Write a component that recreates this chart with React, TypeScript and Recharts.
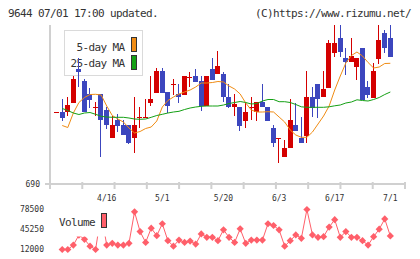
import { ComposedChart, Bar, Line, XAxis, YAxis } from "recharts";

// trading days, 2024-04-03 .. 2024-07-01
const dates = [
  "4/3", "4/4", "4/5", "4/8", "4/9", "4/10", "4/11", "4/12", "4/15", "4/16",
  "4/17", "4/18", "4/19", "4/22", "4/23", "4/24", "4/25", "4/26", "4/30", "5/1",
  "5/2", "5/7", "5/8", "5/9", "5/10", "5/13", "5/14", "5/15", "5/16", "5/17",
  "5/20", "5/21", "5/22", "5/23", "5/24", "5/27", "5/28", "5/29", "5/30", "5/31",
  "6/3", "6/4", "6/5", "6/6", "6/7", "6/10", "6/11", "6/12", "6/13", "6/14",
  "6/17", "6/18", "6/19", "6/20", "6/21", "6/24", "6/25", "6/26", "6/27", "6/28",
  "7/1",
];

const open = [
  762, 762, 762, 771, 805, 793, 780, 767, 780, 764,
  736, 754, 749, 749, 736, 757, 757, 771, 781, 803,
  782, 790, 780, 779, 797, 798, 793, 768, 805, 800,
  800, 777, 767, 767, 753, 767, 762, 772, 767, 746,
  736, 717, 726, 749, 736, 738, 777, 790, 777, 786,
  821, 836, 816, 812, 807, 826, 787, 776, 815, 841,
  836,
];
const high = [
  762, 775, 777, 798, 816, 795, 786, 772, 780, 767,
  758, 760, 754, 749, 777, 767, 775, 798, 806, 806,
  782, 795, 790, 798, 802, 805, 798, 798, 816, 823,
  802, 790, 780, 767, 771, 777, 772, 790, 767, 749,
  736, 734, 775, 771, 757, 803, 787, 790, 803, 834,
  849, 849, 826, 836, 816, 826, 793, 811, 849, 844,
  849,
];
const low = [
  762, 753, 758, 771, 787, 762, 766, 758, 717, 745,
  736, 742, 739, 730, 721, 746, 757, 768, 781, 781,
  761, 779, 771, 779, 787, 792, 763, 768, 794, 800,
  772, 766, 758, 743, 746, 754, 753, 767, 753, 727,
  711, 717, 726, 743, 731, 731, 757, 756, 777, 786,
  817, 817, 799, 812, 794, 774, 776, 776, 810, 821,
  817,
];
const close = [
  762, 756, 769, 795, 802, 762, 774, 767, 754, 749,
  749, 748, 739, 731, 749, 757, 757, 775, 803, 781,
  768, 790, 777, 798, 797, 792, 768, 798, 794, 808,
  777, 767, 770, 748, 762, 767, 772, 767, 753, 731,
  736, 726, 754, 743, 731, 777, 766, 775, 785, 831,
  831, 822, 812, 818, 816, 774, 779, 803, 834, 826,
  817,
];
const ma5 = [
  null, 748.5, 746.5, 761, 771.5, 776.5, 779.5, 779.7, 779, 768,
  758.5, 755, 752, 746, 741, 742.5, 745.5, 747, 753, 767,
  773.5, 777, 780, 782, 784, 787, 791, 791, 791.5, 792.5,
  792, 788, 785, 780, 771, 764, 762, 762, 762.3, 762,
  757, 752, 744, 739, 736.7, 736.7, 742, 750, 758, 768,
  784, 798, 811, 818.5, 822, 818, 811.5, 806, 807, 810.5,
  810.7,
];
const ma25 = [
  null, 765.5, 763.5, 761, 759.5, 761, 761.5, 759.7, 757.7, 757,
  756.7, 756.7, 756.7, 756, 755, 754.7, 755, 756.7, 758.5, 759.7,
  761, 762, 762.7, 764.5, 766, 767, 767.7, 768, 768, 768,
  769, 770.5, 771.5, 772.5, 771.5, 770, 770.5, 773, 774.5, 774.5,
  772.3, 772.3, 771.5, 769.5, 767.2, 766.7, 766.7, 766.7, 766.7, 767.2,
  768.2, 769, 771, 772, 774.2, 773.5, 773, 774.5, 776.5, 779.5,
  782,
];
const volume = [
  null, 12000, 12000, 19300, 36000, 28900, 17600, 12000, 72000, 19300,
  22200, 19300, 19300, 22200, 74600, 41800, 23800, 47500, 35000, 54800,
  26600, 17600, 27700, 23800, 26000, 21000, 37900, 32300, 32300, 26600,
  44700, 32300, 23800, 46300, 22200, 27700, 27700, 27700, 54800, 51900,
  44700, 17600, 26600, 36200, 30600, 78500, 36200, 32300, 33300, 49200,
  61600, 32300, 41800, 32300, 32300, 26600, 19300, 33300, 45800, 62800,
  34500,
];

const labelDates = ["4/16", "5/1", "5/20", "6/3", "6/17", "7/1"];
const priceTicks = [690];
const priceDomain = [690, 849];
const volumeTicks = [12000, 45250, 78500];

const RED = "#d40000";
const BLUE = "#3c46be";
const ORANGE = "#f08c14";
const GREEN = "#14a014";
const VOL = "#ff5f6a";
const AXIS = "#d0d0d0";
const TEXT = "#333333";
const MONO = "'DejaVu Sans Mono', monospace";

// x runs in candle-index units; the axis overhangs the first/last candle a little
const X_MIN = -1.2;
const X_MAX = 62.64;
const markTicks = Array.from({ length: 12 }, (_, k) =>
  k === 11 ? X_MAX : X_MIN + (k * (X_MAX - X_MIN)) / 11
);
const labelIndex = labelDates.map((d) => dates.indexOf(d));
const axisTicks = [...markTicks, ...labelIndex];
const candleTicks = dates.map((_, i) => i);

const rows = dates.map((date, i) => ({
  i,
  date,
  open: open[i],
  high: high[i],
  low: low[i],
  close: close[i],
  range: [low[i], high[i]],
  ma5: ma5[i],
  ma25: ma25[i],
  volume: volume[i],
}));

function Candle(props: any) {
  const { x, y, width, height, payload } = props;
  const { open: o, close: c, high: h, low: l } = payload;
  const cx = Math.floor(x + width / 2);
  const span = h - l;
  const toY = (p: number) => (span === 0 ? y : y + ((h - p) / span) * height);
  const color = c >= o ? RED : BLUE;
  const top = Math.round(toY(Math.max(o, c)));
  const bottom = Math.round(toY(Math.min(o, c)));
  return (
    <g shapeRendering="crispEdges">
      {span > 0 && (
        <line x1={cx + 0.5} x2={cx + 0.5} y1={y} y2={y + height} stroke={color} strokeWidth={1} />
      )}
      <rect x={cx - 2} y={top} width={5} height={Math.max(1, bottom - top)} fill={color} />
    </g>
  );
}

function DateTick(props: any) {
  const { x, y, payload } = props;
  const k = labelIndex.indexOf(payload.value);
  if (k >= 0) {
    return (
      <text x={x} y={y + 17} textAnchor="middle" fontSize={8} fontFamily={MONO} fill={TEXT}>
        {labelDates[k]}
      </text>
    );
  }
  return <line x1={x} x2={x} y1={y - 2} y2={y + 5} stroke={AXIS} strokeWidth={2} />;
}

function Diamond(props: any) {
  const { cx, cy } = props;
  if (cy == null || Number.isNaN(cy)) return <g />;
  const r = 3.6;
  return (
    <polygon
      points={`${cx},${cy - r} ${cx + r},${cy} ${cx},${cy + r} ${cx - r},${cy}`}
      fill={VOL}
    />
  );
}

const textStyle = { fontFamily: MONO, fontSize: 11, letterSpacing: -0.62, fill: TEXT };

export default function App() {
  return (
    <div
      style={{
        position: "absolute",
        left: 0,
        top: 0,
        width: 420,
        height: 259,
        background: "#fff",
        overflow: "hidden",
      }}
    >
      {/* header and MA legend sit underneath the price chart */}
      <svg width={420} height={259} style={{ position: "absolute", left: 0, top: 0 }}>
        <text x={8} y={16.7} {...textStyle}>
          9644 07/01 17:00 updated.
        </text>
        <text x={411} y={16.7} textAnchor="end" {...textStyle}>
          (C)https://www.rizumu.net/
        </text>
        <rect x={64.5} y={30.5} width={78} height={45} fill="#fff" stroke="#dadada" strokeWidth={1} />
        <text x={124.5} y={50.5} textAnchor="end" {...textStyle}>
          5-day MA
        </text>
        <text x={124.5} y={67} textAnchor="end" {...textStyle}>
          25-day MA
        </text>
        <rect x={131.5} y={37.5} width={5} height={14} fill={ORANGE} stroke="#333" strokeWidth={1} />
        <rect x={131.5} y={55.5} width={5} height={14} fill={GREEN} stroke="#333" strokeWidth={1} />
      </svg>

      <div style={{ position: "absolute", left: 0, top: 0 }}>
        <ComposedChart
          width={420}
          height={205}
          data={rows}
          margin={{ top: 25, right: 15, bottom: 0, left: 10 }}
        >
          <XAxis
            xAxisId="bars"
            type="number"
            dataKey="i"
            domain={[X_MIN, X_MAX]}
            ticks={candleTicks}
            hide
          />
          <XAxis
            type="number"
            dataKey="i"
            domain={[X_MIN, X_MAX]}
            ticks={axisTicks}
            interval={0}
            height={21}
            tickSize={0}
            tickMargin={0}
            tickLine={false}
            axisLine={{ stroke: AXIS, strokeWidth: 2 }}
            tick={<DateTick />}
          />
          <YAxis
            domain={priceDomain}
            ticks={priceTicks}
            interval={0}
            width={40}
            tickSize={5}
            tickMargin={5}
            tickLine={{ stroke: AXIS, strokeWidth: 2 }}
            axisLine={{ stroke: AXIS, strokeWidth: 2 }}
            tick={{ fontSize: 8, fontFamily: MONO, fill: TEXT }}
          />
          <Line
            dataKey="ma5"
            stroke={ORANGE}
            strokeWidth={1}
            dot={false}
            isAnimationActive={false}
          />
          <Line
            dataKey="ma25"
            stroke={GREEN}
            strokeWidth={1}
            dot={false}
            isAnimationActive={false}
          />
          <Bar
            xAxisId="bars"
            dataKey="range"
            shape={<Candle />}
            isAnimationActive={false}
          />
        </ComposedChart>
      </div>

      <div style={{ position: "absolute", left: 0, top: 200 }}>
        <ComposedChart
          width={420}
          height={59}
          data={rows}
          margin={{ top: 9.5, right: 15, bottom: 9.5, left: 10 }}
        >
          <XAxis type="number" dataKey="i" domain={[X_MIN, X_MAX]} hide />
          <YAxis
            domain={[12000, 78500]}
            ticks={volumeTicks}
            interval={0}
            width={40}
            tickSize={0}
            tickMargin={6}
            tickLine={false}
            axisLine={false}
            tick={{ fontSize: 8, fontFamily: MONO, fill: TEXT }}
          />
          <Line
            dataKey="volume"
            stroke={VOL}
            strokeWidth={1}
            dot={(p: any) => <Diamond key={`v${p.index}`} {...p} />}
            isAnimationActive={false}
          />
        </ComposedChart>
      </div>

      {/* volume legend covers the line behind it */}
      <svg width={420} height={259} style={{ position: "absolute", left: 0, top: 0 }}>
        <rect x={55} y={206} width={57} height={30.5} fill="#fff" />
        <text x={95} y={226.3} textAnchor="end" {...textStyle}>
          Volume
        </text>
        <rect x={101.5} y={213.5} width={5} height={14} fill={VOL} stroke="#333" strokeWidth={1} />
      </svg>
    </div>
  );
}
